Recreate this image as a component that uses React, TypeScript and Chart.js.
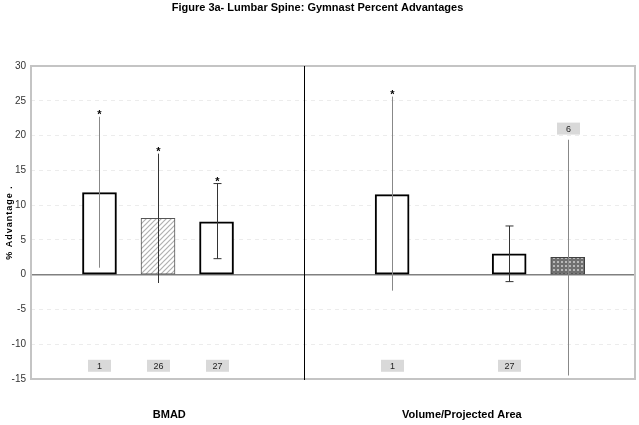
import React, { useEffect, useRef } from "react";
import { Chart, registerables } from "chart.js";

Chart.register(...registerables);

// ---- data ----
const measures = ["BMAD", "Volume/Projected Area"];
const groups = ["1", "26", "27", "6"];
const bmadValues = [11.8, 8.1, 7.6, null];
const bmadLow = [1.0, -1.2, 2.3, null];
const bmadHigh = [22.7, 17.4, 13.1, null];
const bmadStar = [true, true, true, false];
const volValues = [11.5, null, 3.0, 2.5];
const volLow = [-2.3, null, -1.0, -14.5];
const volHigh = [25.6, null, 7.0, 19.4];
const volStar = [true, false, false, false];
const yTicksMin = -15;
const yTicksMax = 30;
const yTickStep = 5;
const countLabelValue = -13.1;

const FONT = "'Liberation Sans', Arial, sans-serif";

function makeHatch(): CanvasPattern | string {
  const c = document.createElement("canvas");
  c.width = 5;
  c.height = 5;
  const g = c.getContext("2d");
  if (!g) return "#fff";
  g.fillStyle = "#ffffff";
  g.fillRect(0, 0, 5, 5);
  g.strokeStyle = "#b0b0b0";
  g.lineWidth = 1.2;
  g.beginPath();
  g.moveTo(-1, 6);
  g.lineTo(6, -1);
  g.moveTo(-1, 1);
  g.lineTo(1, -1);
  g.moveTo(4, 6);
  g.lineTo(6, 4);
  g.stroke();
  return g.createPattern(c, "repeat") || "#fff";
}

function makeChecker(): CanvasPattern | string {
  const c = document.createElement("canvas");
  c.width = 4;
  c.height = 4;
  const g = c.getContext("2d");
  if (!g) return "#777";
  g.fillStyle = "#707070";
  g.fillRect(0, 0, 4, 4);
  g.fillStyle = "#b8b8b8";
  g.fillRect(1, 1, 2, 2);
  return g.createPattern(c, "repeat") || "#777";
}

type Pt = { x: number; y: number; lo: number; hi: number; g: number; star: boolean };

function buildPoints(): Pt[] {
  const pts: Pt[] = [];
  const sets = [
    [bmadValues, bmadLow, bmadHigh, bmadStar],
    [volValues, volLow, volHigh, volStar],
  ] as const;
  sets.forEach((s, m) => {
    const [vals, lo, hi, st] = s as any;
    groups.forEach((_, gi) => {
      if (vals[gi] === null) return;
      pts.push({ x: m * (groups.length + 1) + gi, y: vals[gi], lo: lo[gi], hi: hi[gi], g: gi, star: st[gi] });
    });
  });
  return pts;
}

export default function App() {
  const ref = useRef<HTMLCanvasElement>(null);

  useEffect(() => {
    if (!ref.current) return;
    const pts = buildPoints();
    const hatch = makeHatch();
    const checker = makeChecker();
    const fills = [ "#ffffff", hatch, "#ffffff", checker ];
    const borders = ["#000000", "#555555", "#000000", "#404040"];
    const bwidths = [2, 1, 2, 1];
    const errColors = ["#888888", "#333333", "#333333", "#888888"];
    const caps = [false, false, true, false];

    const overlay = {
      id: "overlay",
      beforeDatasetsDraw(chart: any) {
        const { ctx, chartArea: a, scales } = chart;
        const y0 = scales.y.getPixelForValue(0);
        ctx.save();
        ctx.strokeStyle = "#808080";
        ctx.lineWidth = 1.5;
        ctx.beginPath();
        ctx.moveTo(a.left, y0);
        ctx.lineTo(a.right, y0);
        ctx.stroke();
        ctx.restore();
      },
      afterDatasetsDraw(chart: any) {
        const { ctx, chartArea: a, scales } = chart;
        const xs = scales.x;
        const ys = scales.y;
        ctx.save();
        // plot border
        ctx.strokeStyle = "#c4c4c4";
        ctx.lineWidth = 2;
        ctx.strokeRect(a.left, a.top, a.right - a.left, a.bottom - a.top);
        // divider between measures
        const dx = Math.round(xs.getPixelForValue(groups.length - 0.5)) + 0.5;
        ctx.strokeStyle = "#000000";
        ctx.lineWidth = 1;
        ctx.beginPath();
        ctx.moveTo(dx, a.top);
        ctx.lineTo(dx, a.bottom + 1);
        ctx.stroke();
        // error bars, stars, count labels
        pts.forEach((p) => {
          const px = Math.round(xs.getPixelForValue(p.x)) + 0.5;
          const yl = ys.getPixelForValue(p.lo);
          const yh = ys.getPixelForValue(p.hi);
          ctx.strokeStyle = errColors[p.g];
          ctx.lineWidth = 1;
          ctx.beginPath();
          ctx.moveTo(px, yl);
          ctx.lineTo(px, yh);
          if (caps[p.g]) {
            ctx.moveTo(px - 4, yl);
            ctx.lineTo(px + 4, yl);
            ctx.moveTo(px - 4, yh);
            ctx.lineTo(px + 4, yh);
          }
          ctx.stroke();
          if (p.star) {
            ctx.fillStyle = "#000";
            ctx.font = `bold 11px ${FONT}`;
            ctx.textAlign = "center";
            ctx.textBaseline = "alphabetic";
            ctx.fillText("*", px, yh + 1);
          }
          // count label box
          const labelVal = p.lo < countLabelValue + 1.5 ? p.hi + 1.6 : countLabelValue;
          const ly = ys.getPixelForValue(labelVal);
          ctx.fillStyle = "#d9d9d9";
          ctx.fillRect(px - 11.5, ly - 6, 23, 12);
          ctx.fillStyle = "#222";
          ctx.font = `9px ${FONT}`;
          ctx.textAlign = "center";
          ctx.textBaseline = "middle";
          ctx.fillText(groups[p.g], px, ly + 0.5);
        });
        // measure labels below plot
        ctx.fillStyle = "#000";
        ctx.font = `bold 11px ${FONT}`;
        ctx.textAlign = "center";
        ctx.textBaseline = "middle";
        measures.forEach((m, i) => {
          const c = xs.getPixelForValue(i * (groups.length + 1) + (groups.length - 1) / 2);
          ctx.fillText(m, c - 18, a.bottom + 36);
        });
        // y axis title
        ctx.save();
        ctx.translate(10, (a.top + a.bottom) / 2);
        ctx.rotate(-Math.PI / 2);
        (ctx as any).letterSpacing = "1px";
        ctx.font = `bold 9px ${FONT}`;
        ctx.fillText("% Advantage .", 0, 0);
        ctx.restore();
        ctx.restore();
      },
    };

    const chart = new Chart(ref.current, {
      type: "bar",
      data: {
        datasets: [
          {
            data: pts.map((p) => ({ x: p.x, y: p.y })) as any,
            backgroundColor: pts.map((p) => fills[p.g]) as any,
            borderColor: pts.map((p) => borders[p.g]),
            borderWidth: pts.map((p) => bwidths[p.g]),
            borderSkipped: false,
            barThickness: 34,
          },
        ],
      },
      options: {
        responsive: false,
        animation: false,
        events: [],
        layout: { padding: { top: 0, right: 4, bottom: 46, left: 0 } },
        plugins: {
          legend: { display: false },
          tooltip: { enabled: false },
          title: {
            display: true,
            text: "Figure 3a- Lumbar Spine: Gymnast Percent Advantages",
            color: "#000",
            font: { family: FONT, size: 11, weight: "bold" },
            padding: { top: 1, bottom: 51.8 },
          },
        },
        scales: {
          x: {
            type: "linear",
            display: false,
            offset: false,
            min: -1.17,
            max: 9.15,
            grid: { offset: false },
          },
          y: {
            min: yTicksMin,
            max: yTicksMax,
            afterFit: (s: any) => {
              s.width = 31;
            },
            ticks: {
              stepSize: yTickStep,
              padding: 5,
              color: "#333",
              font: { family: FONT, size: 10 },
            },
            grid: {
              drawTicks: false,
              color: (c: any) => (c.tick && c.tick.value === 0 ? "rgba(0,0,0,0)" : "#ececec"),
              lineWidth: 1,
            },
            border: { display: false, dash: [4, 4] },
          },
        },
      },
      plugins: [overlay],
    });
    return () => chart.destroy();
  }, []);

  return (
    <div style={{ position: "absolute", left: 0, top: 0, width: 639, height: 425, background: "#fff" }}>
      <canvas ref={ref} width={639} height={425} />
    </div>
  );
}
